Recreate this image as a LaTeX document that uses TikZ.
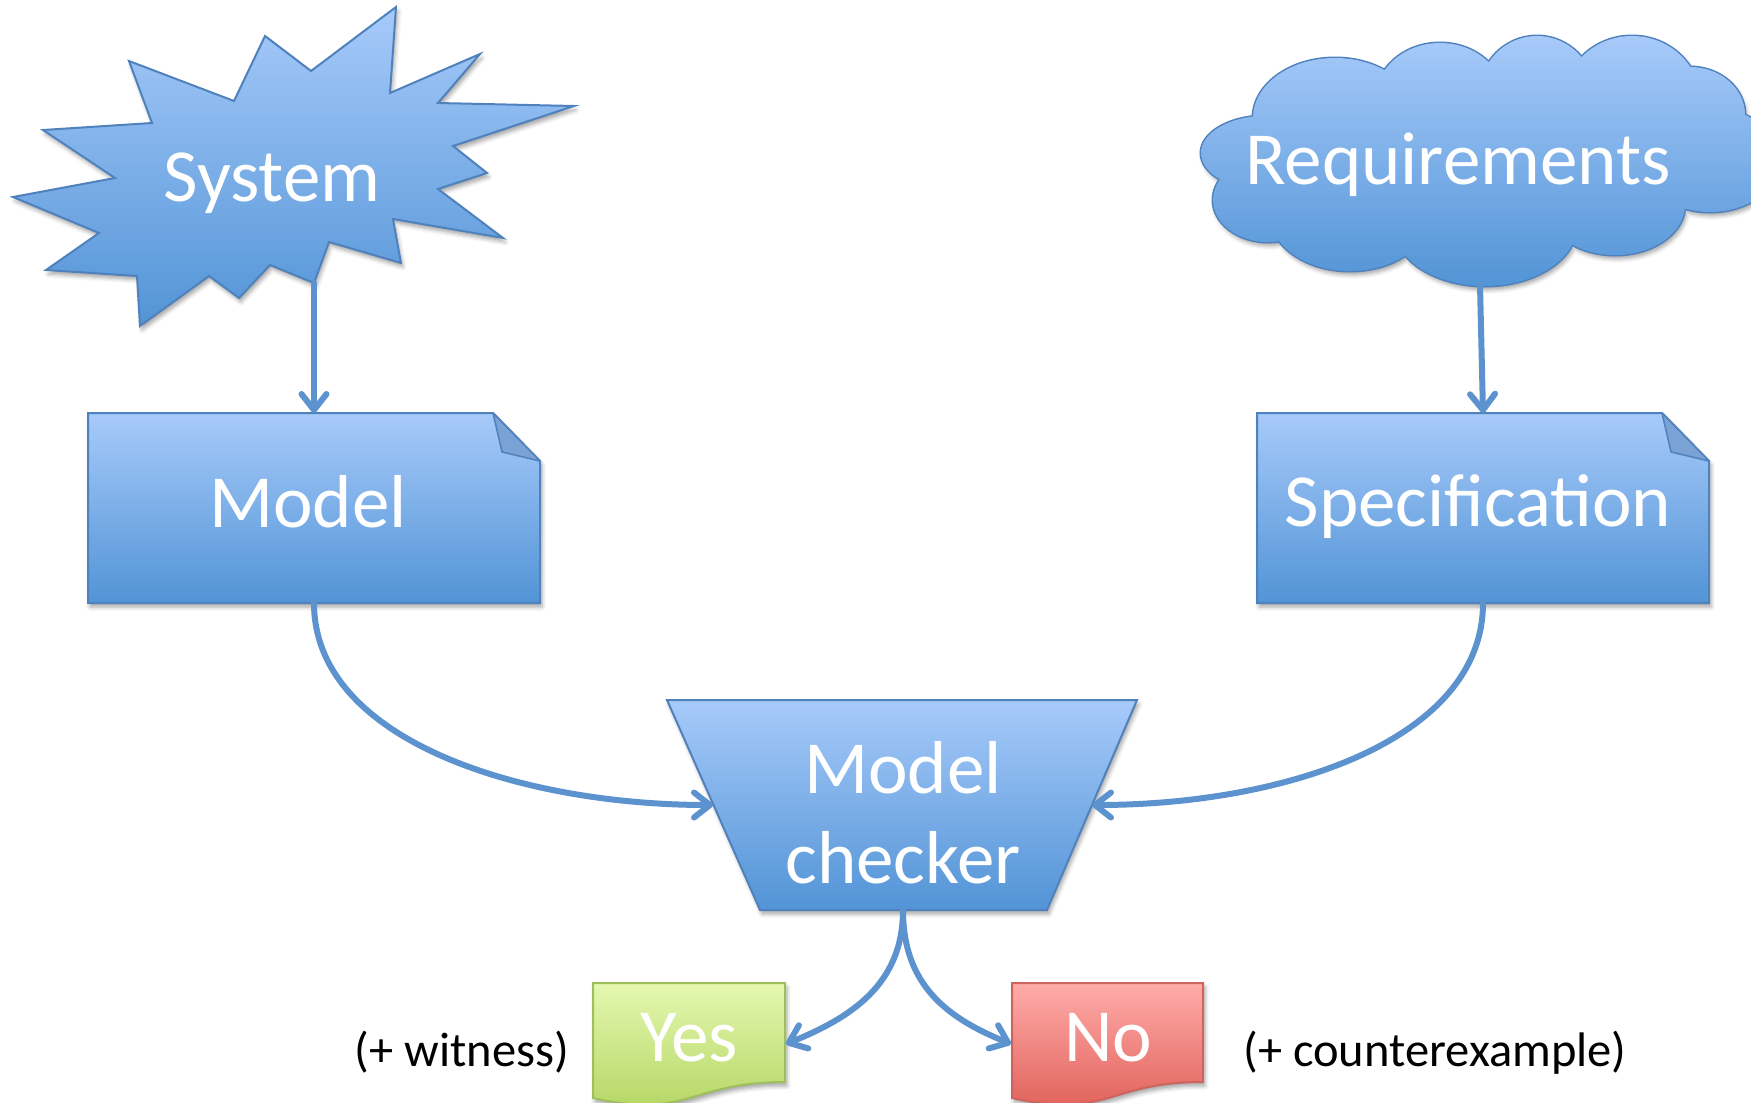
\documentclass[tikz,border=0pt]{standalone}
\usepackage{fontspec}
\setmainfont{Carlito}
\usetikzlibrary{arrows.meta,shadows.blur}

\definecolor{fillTop}{RGB}{167,202,250}
\definecolor{fillBot}{RGB}{82,148,214}
\definecolor{edgeBlue}{RGB}{79,129,189}
\definecolor{lineBlue}{RGB}{92,146,206}
\definecolor{foldBlue}{RGB}{122,162,212}
\definecolor{yesTop}{RGB}{228,248,176}
\definecolor{yesBot}{RGB}{178,212,96}
\definecolor{yesEdge}{RGB}{158,192,92}
\definecolor{noTop}{RGB}{255,172,170}
\definecolor{noBot}{RGB}{222,92,84}
\definecolor{noEdge}{RGB}{205,100,95}

\tikzset{
  blueshape/.style={top color=fillTop, bottom color=fillBot, draw=edgeBlue, line width=2pt},
  softshadow/.style={blur shadow={shadow xshift=2pt, shadow yshift=-4pt, shadow blur radius=4pt, shadow opacity=35}},
  bigtext/.style={text=white, font=\fontsize{75}{90}\selectfont, inner sep=0pt},
  note/.style={text=black, font=\fontsize{48.5}{58}\selectfont, inner sep=0pt, anchor=base},
  geom/.style={inner sep=0pt, outer sep=0pt},
  flow/.style={draw=lineBlue, line width=6pt, line cap=round,
    -{Straight Barb[length=16pt,width=25pt,round]}},
}

% bumps of the requirements cloud
\newcommand\cloudbumps{
  (1335,118) ellipse [x radius=82pt, y radius=60pt]
  (1440,100) ellipse [x radius=65pt, y radius=57pt]
  (1537,95) ellipse [x radius=58pt, y radius=59pt]
  (1632,100) ellipse [x radius=68pt, y radius=64pt]
  (1690,115) ellipse [x radius=55pt, y radius=48pt]
  (1710,160) ellipse [x radius=70pt, y radius=52pt]
  (1615,205) ellipse [x radius=70pt, y radius=50pt]
  (1485,225) ellipse [x radius=92pt, y radius=61pt]
  (1350,215) ellipse [x radius=80pt, y radius=56pt]
  (1268,200) ellipse [x radius=55pt, y radius=42pt]
  (1265,153) ellipse [x radius=64pt, y radius=37pt]
}

\begin{document}
\begin{tikzpicture}[x=1pt,y=-1pt]
\useasboundingbox (0,0) rectangle (1751,1103);

% ---------- System (starburst) ----------
\path[blueshape, softshadow, line join=miter]
  (396,7) -- (390,93) -- (480,54) -- (438,103) -- (574,106) -- (453,146)
  -- (487,173) -- (438,189) -- (503,238) -- (393,219) -- (401,263)
  -- (329,242) -- (314,283) -- (270,265) -- (239,298) -- (209,276)
  -- (140,326) -- (137,276) -- (46,270) -- (99,233) -- (13,197)
  -- (115,178) -- (43,130) -- (152,123) -- (129,61) -- (234,101)
  -- (265,36) -- (311,71) -- cycle;
\node[bigtext, anchor=base] (system) at (272,201) {System};
\coordinate (sysOut) at (314,283);

% ---------- Requirements (cloud) ----------
\path[softshadow] \cloudbumps (1470,160) ellipse [x radius=190pt, y radius=80pt];
\draw[edgeBlue, line width=3pt] \cloudbumps;
\shade[top color=fillTop, bottom color=fillBot] \cloudbumps (1470,160) ellipse [x radius=190pt, y radius=80pt];
\node[bigtext, anchor=base] (requirements) at (1458,184) {Requirements};
\coordinate (reqOut) at (1480,285);

% ---------- Model (folded-corner box) ----------
\node[geom, minimum width=452pt, minimum height=190pt] (model) at (314,508) {};
\path[blueshape, softshadow]
  (model.north west) -- ([xshift=-47pt]model.north east)
  -- ([yshift=-48pt]model.north east) -- (model.south east)
  -- (model.south west) -- cycle;
\path[fill=foldBlue, draw=edgeBlue, line width=1.5pt, line join=round]
  ([xshift=-47pt]model.north east) -- ([xshift=-38pt,yshift=-39pt]model.north east)
  -- ([yshift=-48pt]model.north east) -- cycle;
\node[bigtext, anchor=base] (modelLabel) at (308,527) {Model};

% ---------- Specification (folded-corner box) ----------
\node[geom, minimum width=452pt, minimum height=190pt] (spec) at (1483,508) {};
\path[blueshape, softshadow]
  (spec.north west) -- ([xshift=-47pt]spec.north east)
  -- ([yshift=-48pt]spec.north east) -- (spec.south east)
  -- (spec.south west) -- cycle;
\path[fill=foldBlue, draw=edgeBlue, line width=1.5pt, line join=round]
  ([xshift=-47pt]spec.north east) -- ([xshift=-38pt,yshift=-39pt]spec.north east)
  -- ([yshift=-48pt]spec.north east) -- cycle;
\node[bigtext, anchor=base] (specLabel) at (1478,526) {Specification};

% ---------- Model checker (trapezoid) ----------
\path[blueshape, softshadow, line join=miter]
  (667,700) -- (1137,700) -- (1047,910) -- (760,910) -- cycle;
\node[bigtext, align=center] (checker) at (903,813) {Model\\checker};
\coordinate (chkL) at (713,805);
\coordinate (chkR) at (1092,805);
\coordinate (chkOut) at (903,910);

% ---------- Yes / No (document shapes) ----------
\path[top color=yesTop, bottom color=yesBot, draw=yesEdge, line width=2pt, softshadow]
  (593,983) -- (785,983) -- (785,1082)
  .. controls (689,1082) and (689,1119.6) .. (593,1098) -- cycle;
\node[bigtext, anchor=base] (yes) at (689,1061) {Yes};
\coordinate (yesIn) at (786,1044);

\path[top color=noTop, bottom color=noBot, draw=noEdge, line width=2pt, softshadow]
  (1012,983) -- (1203,983) -- (1203,1082)
  .. controls (1107.5,1082) and (1107.5,1119.6) .. (1012,1098) -- cycle;
\node[bigtext, anchor=base] (no) at (1108,1061) {No};
\coordinate (noIn) at (1011,1044);

\node[note] (witness) at (462,1066) {(+ witness)};
\node[note] (counter) at (1435,1066) {(+ counterexample)};

% ---------- connectors ----------
\draw[flow] (sysOut) -- (model.north);
\draw[flow] (reqOut) -- (spec.north);
\draw[flow] (model.south) .. controls +(0,137) and +(-193,0) .. (chkL);
\draw[flow] (spec.south) .. controls +(0,137) and +(193,0) .. (chkR);
\draw[flow] (chkOut) .. controls +(0,75) and +(64,-26) .. (yesIn);
\draw[flow] (chkOut) .. controls +(0,75) and +(-64,-26) .. (noIn);
\end{tikzpicture}
\end{document}
